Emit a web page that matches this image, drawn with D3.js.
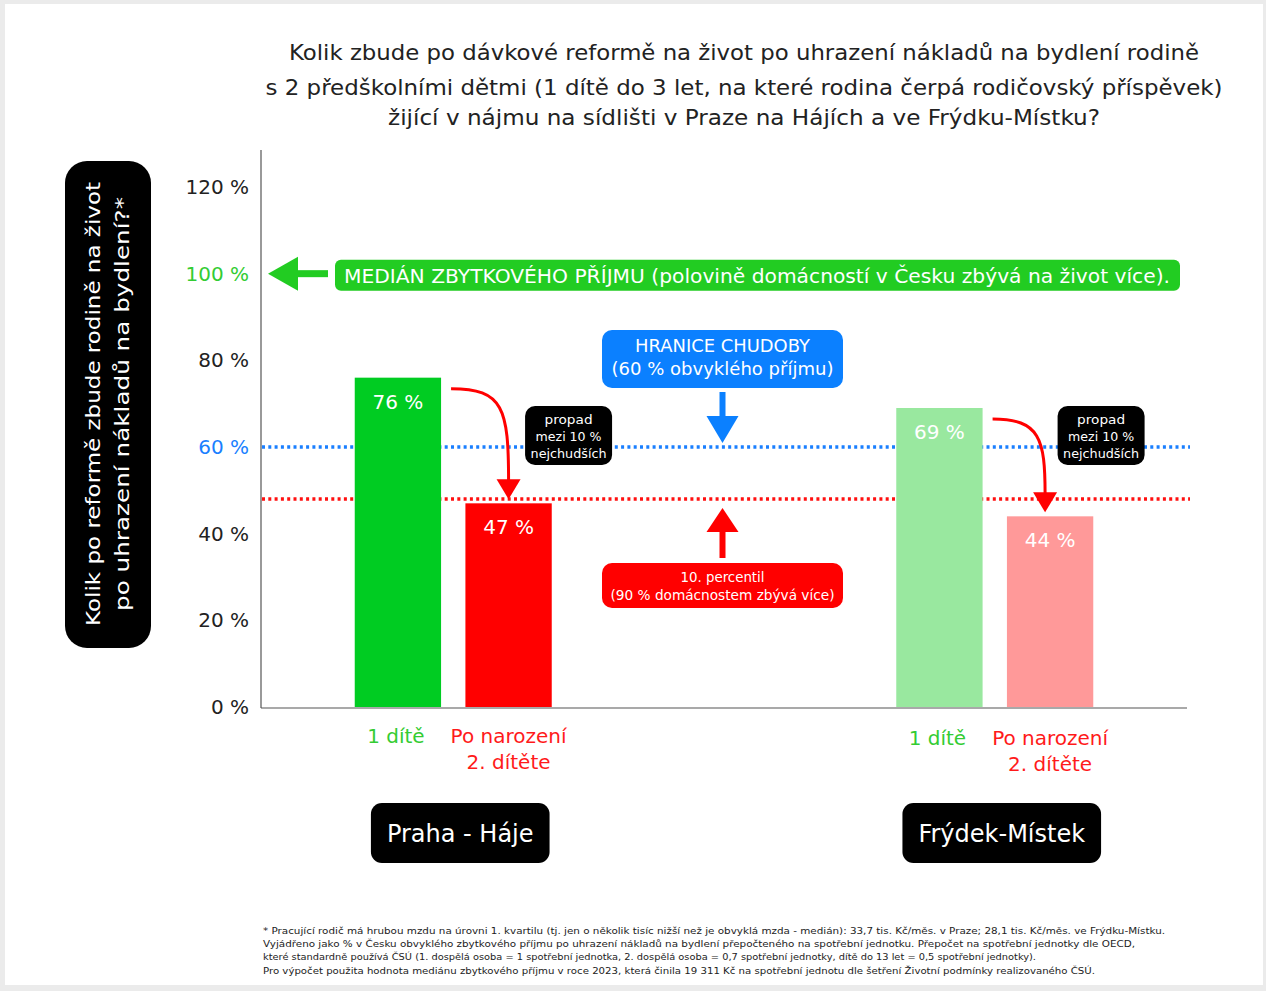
<!DOCTYPE html>
<html><head><meta charset="utf-8">
<script src="https://cdn.jsdelivr.net/npm/d3@7"></script>
<style>body{margin:0;background:#fff}svg{display:block}text{font-family:"DejaVu Sans",Verdana,sans-serif}</style>
</head><body><div id="chart"></div>
<script>
// ---- data ----
const cities = ["Praha - Háje", "Frýdek-Místek"];
const scenarios = ["1 dítě", "Po narození 2. dítěte"];
const scenarioLines = [["1 dítě"], ["Po narození", "2. dítěte"]];
const prahaValues = [76, 47];
const frydekValues = [69, 44];
const yTicks = [0, 20, 40, 60, 80, 100, 120];
const medianLevel = 100;
const povertyLevel = 60;
const percentile10Level = 48;
const titleLines = [
  "Kolik zbude po dávkové reformě na život po uhrazení nákladů na bydlení rodině",
  "s 2 předškolními dětmi (1 dítě do 3 let, na které rodina čerpá rodičovský příspěvek)",
  "žijící v nájmu na sídlišti v Praze na Hájích a ve Frýdku-Místku?"
];
const yLabelLines = ["Kolik po reformě zbude rodině na život", "po uhrazení nákladů na bydlení?*"];
const footnoteLines = [
  "* Pracující rodič má hrubou mzdu na úrovni 1. kvartilu (tj. jen o několik tisíc nižší než je obvyklá mzda - medián): 33,7 tis. Kč/měs. v Praze; 28,1 tis. Kč/měs. ve Frýdku-Místku.",
  "Vyjádřeno jako % v Česku obvyklého zbytkového příjmu po uhrazení nákladů na bydlení přepočteného na spotřební jednotku. Přepočet na spotřební jednotky dle OECD,",
  "které standardně používá ČSÚ (1. dospělá osoba = 1 spotřební jednotka, 2. dospělá osoba = 0,7 spotřební jednotky, dítě do 13 let = 0,5 spotřební jednotky).",
  "Pro výpočet použita hodnota mediánu zbytkového příjmu v roce 2023, která činila 19 311 Kč na spotřební jednotu dle šetření Životní podmínky realizovaného ČSÚ."
];
const medianText = "MEDIÁN ZBYTKOVÉHO PŘÍJMU (polovině domácností v Česku zbývá na život více).";
const povertyText = ["HRANICE CHUDOBY", "(60 % obvyklého příjmu)"];
const percentileText = ["10. percentil", "(90 % domácnostem zbývá více)"];
const dropText = ["propad", "mezi 10 %", "nejchudších"];

const barColors = [["#00cc22", "#ff0000"], ["#99e89f", "#ff9999"]];
const seriesByCity = [prahaValues, frydekValues];

// ---- setup ----
const W = 1266, H = 991;
const svg = d3.select("#chart").append("svg").attr("width", W).attr("height", H);
svg.append("rect").attr("width", W).attr("height", H).attr("fill", "#ebebeb");
svg.append("rect").attr("x", 5).attr("y", 4).attr("width", 1258).attr("height", 981).attr("fill", "#fff");

const y = d3.scaleLinear().domain([0, 120]).range([707, 187]);
const x0 = d3.scalePoint().domain(cities).range([261, 1187]).padding(0.355);
const x1 = d3.scaleBand().domain(scenarios).range([-98.5, 98.5]).paddingInner(0.22);

function fit(sel, w) {
  sel.each(function () {
    if (w) d3.select(this).attr("textLength", w).attr("lengthAdjust", "spacingAndGlyphs");
  });
}

// title
const titleY = [60, 95, 125];
const titleW = [910, 957, 712];
titleLines.forEach((t, i) => {
  svg.append("text").attr("x", 744).attr("y", titleY[i]).attr("text-anchor", "middle")
    .attr("font-size", 21).attr("fill", "#222").text(t).call(fit, titleW[i]);
});

// y-label box
svg.append("rect").attr("x", 65).attr("y", 161).attr("width", 86).attr("height", 487).attr("rx", 22).attr("fill", "#000");
yLabelLines.forEach((t, i) => {
  svg.append("text").attr("transform", `translate(${100 + i * 29},404) rotate(-90)`)
    .attr("text-anchor", "middle").attr("font-size", 20).attr("fill", "#fff").text(t)
    .call(fit, i === 0 ? 444 : 414);
});

// reference dotted lines
svg.append("line").attr("x1", 262).attr("x2", 1190).attr("y1", y(povertyLevel)).attr("y2", y(povertyLevel))
  .attr("stroke", "#1a7fff").attr("stroke-width", 3.5).attr("stroke-dasharray", "3 3.3");
svg.append("line").attr("x1", 262).attr("x2", 1190).attr("y1", y(percentile10Level)).attr("y2", y(percentile10Level))
  .attr("stroke", "#ff1010").attr("stroke-width", 3.5).attr("stroke-dasharray", "3 3.3");

// axis
const axis = svg.append("g").attr("transform", "translate(261,0)")
  .call(d3.axisLeft(y).tickValues(yTicks).tickSize(0).tickPadding(12).tickFormat(d => d + " %"));
axis.select(".domain").remove();
axis.selectAll("text").attr("font-size", 20).attr("font-family", "DejaVu Sans")
  .attr("fill", d => d === medianLevel ? "#33cc33" : d === povertyLevel ? "#1a7fff" : "#222");
svg.append("line").attr("x1", 261).attr("x2", 261).attr("y1", 150).attr("y2", y(0) + 1).attr("stroke", "#555").attr("stroke-width", 1.2);
svg.append("line").attr("x1", 261).attr("x2", 1187).attr("y1", y(0) + 1).attr("y2", y(0) + 1).attr("stroke", "#555").attr("stroke-width", 1.2);

// bars
const barData = [];
cities.forEach((c, ci) => scenarios.forEach((s, si) => barData.push({ c, s, ci, si, v: seriesByCity[ci][si] })));
const bars = svg.append("g").selectAll("g").data(barData).join("g")
  .attr("transform", d => `translate(${x0(d.c)},0)`);
bars.append("rect").attr("x", d => x1(d.s)).attr("width", x1.bandwidth())
  .attr("y", d => y(d.v)).attr("height", d => y(0) - y(d.v)).attr("fill", d => barColors[d.ci][d.si]);
bars.append("text").attr("x", d => x1(d.s) + x1.bandwidth() / 2).attr("y", d => y(d.v) + 31)
  .attr("text-anchor", "middle").attr("font-size", 20).attr("fill", "#fff").text(d => d.v + " %");

// category labels and city boxes
cities.forEach((c, ci) => {
  scenarios.forEach((s, si) => {
    scenarioLines[si].forEach((ln, li) => {
      svg.append("text").attr("x", x0(c) + x1(s) + x1.bandwidth() / 2 + (si === 0 ? -2 : 0))
        .attr("y", 743 + li * 26 + ci * 2).attr("text-anchor", "middle").attr("font-size", 20)
        .attr("fill", si === 0 ? "#33cc33" : "#ff1a1a").text(ln);
    });
  });
  const cx = x0(c) + 7;
  const g = svg.append("g");
  const r = g.append("rect").attr("y", 803).attr("height", 60).attr("rx", 11).attr("fill", "#000");
  const t = g.append("text").attr("x", cx).attr("y", 842).attr("text-anchor", "middle")
    .attr("font-size", 24).attr("fill", "#fff").text(c);
  const tw = t.node().getComputedTextLength();
  r.attr("x", cx - tw / 2 - 16).attr("width", tw + 32);
});

// median arrow + box
const yM = y(medianLevel);
svg.append("path").attr("d", `M268,${yM} L298,${yM - 17} L298,${yM + 17} Z`).attr("fill", "#22cc22");
svg.append("rect").attr("x", 296).attr("y", yM - 3.5).attr("width", 32).attr("height", 7).attr("fill", "#22cc22");
svg.append("rect").attr("x", 335).attr("y", yM - 14).attr("width", 845).attr("height", 31).attr("rx", 6).attr("fill", "#22cc22");
svg.append("text").attr("x", 757).attr("y", yM + 9).attr("text-anchor", "middle").attr("font-size", 20)
  .attr("fill", "#fff").text(medianText).call(fit, 826);

// poverty box & arrow
const cxMid = 722.5;
svg.append("rect").attr("x", 602).attr("y", 330).attr("width", 241).attr("height", 58).attr("rx", 10).attr("fill", "#0b80ff");
povertyText.forEach((t, i) => svg.append("text").attr("x", cxMid).attr("y", 352 + i * 23).attr("text-anchor", "middle")
  .attr("font-size", 17.5).attr("fill", "#fff").text(t).call(fit, i === 0 ? 175 : 222));
svg.append("rect").attr("x", cxMid - 3).attr("y", 392).attr("width", 6).attr("height", 26).attr("fill", "#0b80ff");
svg.append("path").attr("d", `M${cxMid - 16},416 L${cxMid + 16},416 L${cxMid},${y(povertyLevel) - 4} Z`).attr("fill", "#0b80ff");

// percentile box & arrow
const yP = y(percentile10Level);
svg.append("path").attr("d", `M${cxMid - 16},${yP + 33} L${cxMid + 16},${yP + 33} L${cxMid},${yP + 9} Z`).attr("fill", "#ff0000");
svg.append("rect").attr("x", cxMid - 3).attr("y", yP + 31).attr("width", 6).attr("height", 28).attr("fill", "#ff0000");
svg.append("rect").attr("x", 602).attr("y", 563).attr("width", 241).attr("height", 45).attr("rx", 10).attr("fill", "#ff0000");
percentileText.forEach((t, i) => svg.append("text").attr("x", cxMid).attr("y", 582 + i * 18).attr("text-anchor", "middle")
  .attr("font-size", 14).attr("fill", "#fff").text(t).call(fit, i === 0 ? 84 : 224));

// drop arrows and boxes
const dropBoxOffset = [60, 51];
cities.forEach((c, ci) => {
  const vals = seriesByCity[ci];
  const bx0 = x0(c) + x1(scenarios[0]) + x1.bandwidth();
  const bx1 = x0(c) + x1(scenarios[1]) + x1.bandwidth() / 2 - (ci ? 5 : 0);
  const ys = y(vals[0]) + 11;
  const ye = y(vals[1]) - 4;
  svg.append("path").attr("d", `M${bx0 + 10},${ys} C${bx1 - 5},${ys} ${bx1},${ys + 20} ${bx1},${ye - 18}`)
    .attr("fill", "none").attr("stroke", "#ff0000").attr("stroke-width", 3);
  svg.append("path").attr("d", `M${bx1 - 12},${ye - 20} L${bx1 + 12},${ye - 20} L${bx1},${ye} Z`).attr("fill", "#ff0000");
  const boxCx = x0(c) + x1(scenarios[1]) + x1.bandwidth() / 2 + dropBoxOffset[ci];
  svg.append("rect").attr("x", boxCx - 43.5).attr("y", 406).attr("width", 87).attr("height", 59).attr("rx", 10).attr("fill", "#000");
  dropText.forEach((t, i) => svg.append("text").attr("x", boxCx).attr("y", 424 + i * 17).attr("text-anchor", "middle")
    .attr("font-size", 13).attr("fill", "#fff").text(t).call(fit, [48, 66, 76][i]));
});

// footnote
const fnW = [902, 872, 773, 832];
footnoteLines.forEach((t, i) => svg.append("text").attr("x", 263).attr("y", 934 + i * 13.2)
  .attr("font-size", 9.5).attr("fill", "#222").text(t).call(fit, fnW[i]));
</script></body></html>
